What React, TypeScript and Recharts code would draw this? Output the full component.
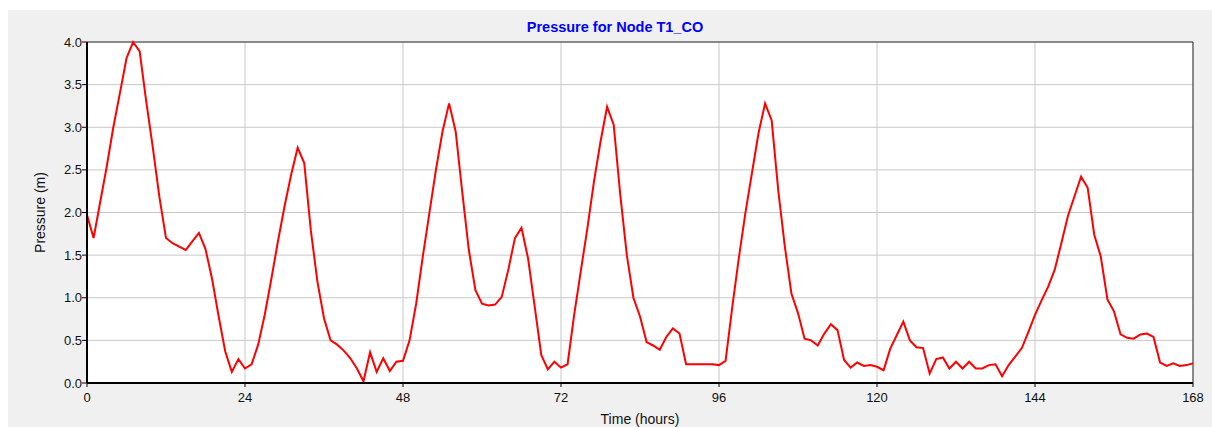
import { LineChart, Line, XAxis, YAxis, CartesianGrid, ReferenceLine } from 'recharts'

// node pressure, one reading per hour from 0 to 168 h
const pressure = [
  1.97, 1.70, 2.12, 2.54, 3.00, 3.40, 3.81, 4.00, 3.89, 3.30,
  2.76, 2.18, 1.70, 1.64, 1.60, 1.56, 1.66, 1.76, 1.57, 1.22,
  0.78, 0.37, 0.13, 0.28, 0.17, 0.22, 0.45, 0.80, 1.22, 1.66,
  2.07, 2.44, 2.76, 2.58, 1.79, 1.19, 0.76, 0.50, 0.45, 0.38,
  0.29, 0.17, 0.02, 0.36, 0.13, 0.29, 0.14, 0.25, 0.26, 0.50,
  0.93, 1.48, 1.99, 2.50, 2.95, 3.28, 2.95, 2.24, 1.56, 1.09,
  0.93, 0.91, 0.92, 1.01, 1.33, 1.70, 1.82, 1.46, 0.90, 0.33,
  0.16, 0.25, 0.18, 0.22, 0.80, 1.31, 1.81, 2.36, 2.83, 3.24,
  3.03, 2.21, 1.50, 1.00, 0.78, 0.48, 0.44, 0.39, 0.54, 0.64,
  0.58, 0.22, 0.22, 0.22, 0.22, 0.22, 0.21, 0.26, 0.88, 1.46,
  1.99, 2.46, 2.93, 3.28, 3.08, 2.26, 1.60, 1.05, 0.82, 0.52,
  0.50, 0.44, 0.58, 0.69, 0.62, 0.27, 0.18, 0.24, 0.20, 0.21,
  0.19, 0.15, 0.40, 0.56, 0.72, 0.50, 0.42, 0.41, 0.11, 0.28,
  0.30, 0.17, 0.25, 0.17, 0.25, 0.17, 0.17, 0.21, 0.22, 0.08,
  0.21, 0.31, 0.41, 0.60, 0.80, 0.97, 1.13, 1.33, 1.64, 1.96,
  2.19, 2.42, 2.29, 1.74, 1.48, 0.98, 0.84, 0.57, 0.53, 0.52,
  0.57, 0.58, 0.54, 0.24, 0.20, 0.23, 0.20, 0.21, 0.23,
]

const STEP_HOURS = 1
const xTicks = [0, 24, 48, 72, 96, 120, 144, 168]
const yTicks = [0, 0.5, 1, 1.5, 2, 2.5, 3, 3.5, 4]

const chartData = pressure.map(function (p, i) {
  return { hour: i * STEP_HOURS, pressure: p }
})

const font = '"Liberation Sans", Arial, sans-serif'

export default function App() {
  return (
    <div style={{
      position: 'fixed',
      left: 8,
      top: 10,
      width: 1204,
      height: 417,
      backgroundColor: '#f0f0f0',
      fontFamily: font,
    }}>
      <div style={{
        position: 'absolute',
        left: 0,
        width: 1214,
        top: 9,
        textAlign: 'center',
        fontSize: '14.5px',
        fontWeight: 700,
        color: '#0000ff',
      }}>
        Pressure for Node T1_CO
      </div>

      <LineChart
        width={1204}
        height={417}
        data={chartData}
        margin={{ top: 32, right: 19, bottom: 0, left: 0 }}
        style={{ fontFamily: font }}
      >
        <CartesianGrid stroke="#c8c8c8" fill="#ffffff" />

        <XAxis
          dataKey="hour"
          type="number"
          domain={[0, 168]}
          ticks={xTicks}
          height={44}
          tick={{ fontSize: 13, fill: '#111' }}
          tickSize={4}
          tickMargin={6}
          axisLine={{ stroke: '#000', strokeWidth: 2 }}
          tickLine={{ stroke: '#000' }}
          label={{ value: 'Time (hours)', position: 'insideBottom', offset: 3, fontSize: 14, fill: '#111' }}
        />

        <YAxis
          domain={[0, 4]}
          ticks={yTicks}
          width={79}
          tickFormatter={function (v: number) { return v.toFixed(1) }}
          tick={{ fontSize: 13, fill: '#111' }}
          tickSize={5}
          tickMargin={0}
          axisLine={{ stroke: '#000', strokeWidth: 2 }}
          tickLine={{ stroke: '#000' }}
          label={{
            value: 'Pressure (m)',
            angle: -90,
            position: 'insideLeft',
            offset: 32,
            fontSize: 14,
            fill: '#111',
            style: { textAnchor: 'middle' },
          }}
        />

        <ReferenceLine y={4} stroke="#333" strokeWidth={1} />
        <ReferenceLine x={168} stroke="#333" strokeWidth={1} />

        <Line
          type="linear"
          dataKey="pressure"
          stroke="#ff0000"
          strokeWidth={2}
          dot={false}
          isAnimationActive={false}
        />
      </LineChart>
    </div>
  )
}
